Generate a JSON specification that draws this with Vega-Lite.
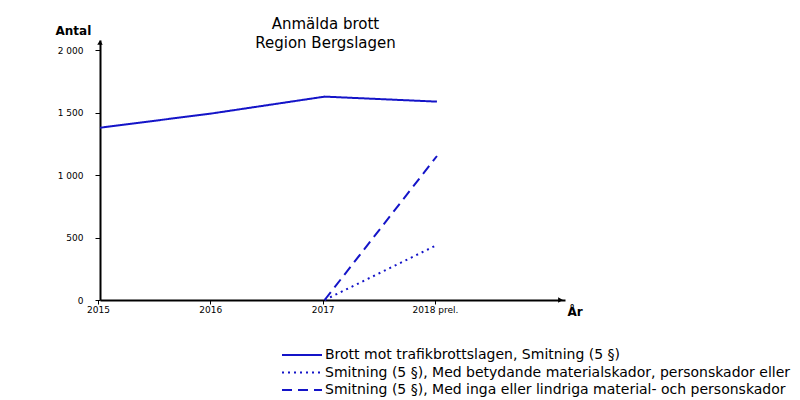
{
  "$schema": "https://vega.github.io/schema/vega-lite/v6.json",
  "width": 465,
  "height": 260,
  "autosize": "none",
  "padding": {"left": 100, "top": 40, "right": 235, "bottom": 100},
  "background": "white",
  "config": {
    "view": {"stroke": null},
    "font": "DejaVu Sans"
  },
  "title": {
    "text": ["Anmälda brott", "Region Bergslagen"],
    "frame": "group",
    "anchor": "middle",
    "fontSize": 15,
    "fontWeight": "normal",
    "color": "black",
    "dx": -7,
    "offset": -27,
    "lineHeight": 19
  },
  "data": {
    "values": [
      {"year": 2015, "serie": "Brott mot trafikbrottslagen, Smitning (5 §)", "value": 1378},
      {"year": 2016, "serie": "Brott mot trafikbrottslagen, Smitning (5 §)", "value": 1493},
      {"year": 2017, "serie": "Brott mot trafikbrottslagen, Smitning (5 §)", "value": 1627},
      {"year": 2018, "serie": "Brott mot trafikbrottslagen, Smitning (5 §)", "value": 1587},
      {"year": 2017, "serie": "Smitning (5 §), Med betydande materialskador, personskador eller", "value": 0},
      {"year": 2018, "serie": "Smitning (5 §), Med betydande materialskador, personskador eller", "value": 440},
      {"year": 2017, "serie": "Smitning (5 §), Med inga eller lindriga material- och personskador", "value": 0},
      {"year": 2018, "serie": "Smitning (5 §), Med inga eller lindriga material- och personskador", "value": 1152}
    ]
  },
  "layer": [
    {
      "mark": {"type": "line", "strokeWidth": 2},
      "encoding": {
        "x": {
          "field": "year",
          "type": "quantitative",
          "scale": {"domain": [2015, 2019.14], "nice": false, "zero": false},
          "axis": {
            "values": [2015, 2016, 2017, 2018],
            "labelExpr": "datum.value == 2018 ? '2018 prel.' : datum.value",
            "grid": false,
            "domainColor": "black",
            "domainWidth": 2,
            "tickColor": "black",
            "tickSize": 4,
            "tickOffset": -2,
            "labelFontSize": 9,
            "labelColor": "black",
            "labelPadding": 1,
            "labelFlush": false,
            "title": "År",
            "titleFontSize": 12,
            "titleFontWeight": "bold",
            "titleColor": "black",
            "titleAngle": 0,
            "titleAlign": "left",
            "titleBaseline": "middle",
            "titleX": 467,
            "titleY": 11
          }
        },
        "y": {
          "field": "value",
          "type": "quantitative",
          "scale": {"domain": [0, 2080], "nice": false},
          "axis": {
            "values": [0, 500, 1000, 1500, 2000],
            "labelExpr": "replace(format(datum.value, ','), ',', ' ')",
            "grid": false,
            "domainColor": "black",
            "domainWidth": 2,
            "tickColor": "black",
            "tickSize": 5,
            "tickOffset": 0,
            "labelFontSize": 9,
            "labelColor": "black",
            "labelPadding": 12,
            "title": "Antal",
            "titleFontSize": 12,
            "titleFontWeight": "bold",
            "titleColor": "black",
            "titleAngle": 0,
            "titleAlign": "left",
            "titleBaseline": "middle",
            "titleX": -45,
            "titleY": -10
          }
        },
        "color": {
          "field": "serie",
          "type": "nominal",
          "scale": {"range": ["#1414c8", "#1414c8", "#1414c8"]},
          "legend": {
            "orient": "none",
            "legendX": 195,
            "legendY": 308,
            "title": null,
            "symbolType": "M-4,0H4",
            "symbolSize": 100,
            "symbolStrokeWidth": 2,
            "labelFontSize": 14,
            "labelColor": "black",
            "labelLimit": 0,
            "labelOffset": 16,
            "rowPadding": 3.5
          }
        },
        "strokeDash": {
          "field": "serie",
          "type": "nominal",
          "scale": {"range": [[1, 0], [2, 4], [10, 6]]},
          "legend": {
            "orient": "none",
            "legendX": 195,
            "legendY": 308,
            "title": null,
            "symbolType": "M-4,0H4",
            "symbolSize": 100,
            "symbolStrokeWidth": 2,
            "labelFontSize": 14,
            "labelColor": "black",
            "labelLimit": 0,
            "labelOffset": 16,
            "rowPadding": 3.5
          }
        }
      }
    },
    {
      "data": {"values": [{}]},
      "mark": {"type": "point", "shape": "triangle-up", "filled": true, "color": "black", "size": 30, "opacity": 1},
      "encoding": {
        "x": {"datum": 2015, "type": "quantitative"},
        "y": {"datum": 2060, "type": "quantitative"}
      }
    },
    {
      "data": {"values": [{}]},
      "mark": {"type": "point", "shape": "triangle-right", "filled": true, "color": "black", "size": 30, "opacity": 1},
      "encoding": {
        "x": {"datum": 2019.1, "type": "quantitative"},
        "y": {"datum": 0, "type": "quantitative"}
      }
    }
  ]
}
